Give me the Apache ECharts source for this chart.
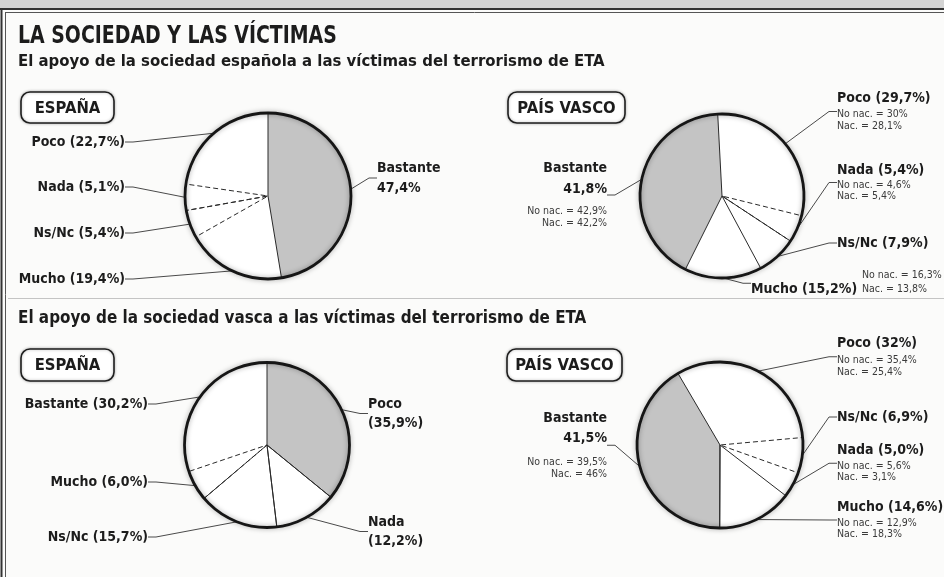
<!DOCTYPE html>
<html><head><meta charset="utf-8">
<script src="https://cdn.jsdelivr.net/npm/echarts@6/dist/echarts.min.js"></script>
<style>html,body{margin:0;padding:0;background:#fbfbfa}#c{width:944px;height:577px}</style>
</head><body><div id="c"></div>
<script>
// ---------------- DATA ----------------
const categories = ['Poco', 'Nada', 'Ns/Nc', 'Mucho', 'Bastante'];
// El apoyo de la sociedad española ...
const espanaEsp = [22.7, 5.1, 5.4, 19.4, 47.4];
const vascoEsp = [29.7, 5.4, 7.9, 15.2, 41.8];
const vascoEspNoNac = [30, 4.6, null, 16.3, 42.9];
const vascoEspNac = [28.1, 5.4, null, 13.8, 42.2];
// El apoyo de la sociedad vasca ...
const espanaVas = [35.9, 12.2, 15.7, 6.0, 30.2];
const vascoVas = [32, 5.0, 6.9, 14.6, 41.5];
const vascoVasNoNac = [35.4, 5.6, null, 12.9, 39.5];
const vascoVasNac = [25.4, 3.1, null, 18.3, 46];

const titleText = 'LA SOCIEDAD Y LAS VÍCTIMAS';
const subtitle1 = 'El apoyo de la sociedad española a las víctimas del terrorismo de ETA';
const subtitle2 = 'El apoyo de la sociedad vasca a las víctimas del terrorismo de ETA';
const badgeEsp = 'ESPAÑA';
const badgeVas = 'PAÍS VASCO';

// ---------------- STYLE / LAYOUT ----------------
const FONT = "'DejaVu Sans Condensed','Liberation Sans Narrow','Liberation Sans',sans-serif";
const INK = '#1c1c1c';
const GRAY = '#c4c4c4';
const LBL = 14, SUB = 10.5;
function pct(v) { return (Number.isInteger(v) && v >= 10) ? String(v) : v.toFixed(1).replace('.', ','); }

const pies = [
  { values: espanaEsp, center: [268, 196], r: 83, start: 90, clockwise: false, order: [0, 1, 2, 3, 4], gray: 'Bastante',
    edges: { 'Bastante': 'solid', 'Ns/Nc': 'dashed', 'Nada': 'dashed' },
    slots: {
      'Poco': { x: 125, y: 142, align: 'right', va: 'middle', fmt: 'inline' },
      'Nada': { x: 125, y: 187, align: 'right', va: 'middle', fmt: 'inline' },
      'Ns/Nc': { x: 125, y: 233, align: 'right', va: 'middle', fmt: 'inline' },
      'Mucho': { x: 125, y: 279, align: 'right', va: 'middle', fmt: 'inline' },
      'Bastante': { x: 377, y: 158, align: 'left', va: 'top', fmt: 'stack', nlh: 20 }
    } },
  { values: vascoEsp, noNac: vascoEspNoNac, nac: vascoEspNac, center: [722, 196], r: 82, start: 93, clockwise: true, order: [0, 1, 2, 3, 4], gray: 'Bastante',
    edges: { 'Bastante': 'solid', 'Nada': 'dashed', 'Ns/Nc': 'solid' },
    slots: {
      'Poco': { x: 837, y: 89, align: 'left', va: 'top', fmt: 'subs', nlh: 19, slh: 12 },
      'Nada': { x: 837, y: 160, align: 'left', va: 'top', fmt: 'subs', nlh: 20, slh: 11 },
      'Ns/Nc': { x: 837, y: 243, align: 'left', va: 'middle', fmt: 'inline' },
      'Mucho': { x: 751, y: 270, align: 'left', va: 'top', fmt: 'side', nw: 111 },
      'Bastante': { x: 607, y: 157.5, align: 'right', va: 'top', fmt: 'stackSubs', nlh: 21, sp: 6, slh: 12 }
    } },
  { values: espanaVas, center: [267, 445], r: 82.5, start: 90, clockwise: true, order: [0, 1, 2, 3, 4], gray: 'Poco',
    edges: { 'Poco': 'solid', 'Nada': 'solid', 'Ns/Nc': 'solid', 'Mucho': 'dashed' },
    slots: {
      'Bastante': { x: 148, y: 404, align: 'right', va: 'middle', fmt: 'inline' },
      'Mucho': { x: 148, y: 482, align: 'right', va: 'middle', fmt: 'inline' },
      'Ns/Nc': { x: 148, y: 537, align: 'right', va: 'middle', fmt: 'inline' },
      'Poco': { x: 368, y: 394.5, align: 'left', va: 'top', fmt: 'stackParen', nlh: 19 },
      'Nada': { x: 368, y: 512.5, align: 'left', va: 'top', fmt: 'stackParen', nlh: 19 }
    } },
  { values: vascoVas, noNac: vascoVasNoNac, nac: vascoVasNac, center: [720, 445], r: 83, start: 120.4, clockwise: true, order: [0, 2, 1, 3, 4], gray: 'Bastante',
    edges: { 'Bastante': 'solid', 'Ns/Nc': 'dashed', 'Mucho': 'solid' },
    slots: {
      'Poco': { x: 837, y: 332, align: 'left', va: 'top', fmt: 'subs', nlh: 22, slh: 12 },
      'Ns/Nc': { x: 837, y: 417, align: 'left', va: 'middle', fmt: 'inline' },
      'Nada': { x: 837, y: 440, align: 'left', va: 'top', fmt: 'subs', nlh: 21, slh: 11 },
      'Mucho': { x: 837, y: 496, align: 'left', va: 'top', fmt: 'subs', nlh: 22, slh: 11 },
      'Bastante': { x: 607, y: 408, align: 'right', va: 'top', fmt: 'stackSubs', nlh: 20, sp: 8, slh: 12 }
    } }
];

function labelFor(p, i) {
  const name = categories[i], v = pct(p.values[i]), s = p.slots[name];
  const nlh = s.nlh || 17, slh = s.slh || 11;
  const rich = {
    n: { fontFamily: FONT, fontSize: LBL, fontWeight: 'bold', color: INK, lineHeight: nlh },
    s: { fontFamily: FONT, fontSize: SUB, color: '#3a3a3a', lineHeight: slh },
    sp: { fontSize: 1, lineHeight: s.sp || 0 },
    w: { width: s.nw || 0, lineHeight: 11, fontSize: SUB },
    nw: { fontFamily: FONT, fontSize: LBL, fontWeight: 'bold', color: INK, lineHeight: 17, width: s.nw || 0 }
  };
  let f;
  const sub1 = p.noNac && p.noNac[i] != null ? 'No nac. = ' + pct(p.noNac[i]) + '%' : '';
  const sub2 = p.nac && p.nac[i] != null ? 'Nac. = ' + pct(p.nac[i]) + '%' : '';
  switch (s.fmt) {
    case 'inline': f = '{n|' + name + ' (' + v + '%)}'; break;
    case 'stack': f = '{n|' + name + '}\n{n|' + v + '%}'; break;
    case 'stackParen': f = '{n|' + name + '}\n{n|(' + v + '%)}'; break;
    case 'subs': f = '{n|' + name + ' (' + v + '%)}\n{s|' + sub1 + '}\n{s|' + sub2 + '}'; break;
    case 'stackSubs': f = '{n|' + name + '}\n{n|' + v + '%}\n{sp|\u00a0}\n{s|' + sub1 + '}\n{s|' + sub2 + '}'; break;
    case 'side': f = '{w|\u00a0}{s|' + sub1 + '}\n{nw|' + name + ' (' + v + '%)}{s|' + sub2 + '}'; break;
  }
  return { formatter: f, rich: rich };
}

const series = [];
pies.forEach(function (p, k) {
  const common = { type: 'pie', center: p.center, radius: [0, p.r], startAngle: p.start, clockwise: p.clockwise,
    avoidLabelOverlap: false, animation: false, emphasis: { disabled: true } };
  const main = Object.assign({}, common, {
    id: 'pie' + k,
    data: p.order.map(function (i) {
      return { name: categories[i], value: p.values[i],
        itemStyle: { color: categories[i] === p.gray ? GRAY : '#ffffff', borderWidth: 0 },
        label: labelFor(p, i) };
    }),
    label: { show: true, position: 'outside', color: INK },
    labelLine: { show: true, length: 10, length2: 8, lineStyle: { color: '#4a4a4a', width: 1 } },
    labelLayout: function (params) {
      const s = p.slots[categories[p.order[params.dataIndex]]];
      return { x: s.x, y: s.y, align: s.align, verticalAlign: s.va };
    },
    z: 2
  });
  const edgesS = Object.assign({}, common, {
    id: 'edges' + k, silent: true,
    data: p.order.map(function (i) {
      const t = p.edges[categories[i]];
      return { name: categories[i], value: p.values[i],
        itemStyle: { color: 'rgba(0,0,0,0)', borderColor: '#2a2a2a', borderWidth: t ? 1 : 0, borderType: t === 'dashed' ? [5, 3] : 'solid' } };
    }),
    label: { show: false }, labelLine: { show: false }, z: 3
  });
  const outline = Object.assign({}, common, {
    id: 'outline' + k, silent: true,
    data: [{ name: 'outline', value: 1 }],
    itemStyle: { color: 'rgba(0,0,0,0)', borderColor: '#161616', borderWidth: 2.8, shadowBlur: 5, shadowColor: 'rgba(0,0,0,0.35)' },
    label: { show: false }, labelLine: { show: false }, z: 4
  });
  series.push(main, edgesS, outline);
});

function badge(x, y, w, h, t) {
  return { type: 'group', children: [
    { type: 'rect', shape: { x: x, y: y, width: w, height: h, r: 9 }, style: { fill: '#fff', stroke: '#1e1e1e', lineWidth: 1.6, shadowBlur: 3, shadowColor: 'rgba(0,0,0,0.3)' } },
    { type: 'text', style: { text: t, x: x + w / 2, y: y + h / 2 + 1, font: "bold 16.5px " + FONT, fill: INK, align: 'center', verticalAlign: 'middle', textAlign: 'center', textVerticalAlign: 'middle' } }
  ] };
}
function txt(t, x, y, font, sx) {
  return { type: 'text', x: x, y: y, scaleX: sx || 1, style: { text: t, x: 0, y: 0, font: font, fill: INK, align: 'left', verticalAlign: 'middle', textAlign: 'left', textVerticalAlign: 'middle' } };
}

const graphic = [
  { type: 'rect', shape: { x: 0, y: 0, width: 944, height: 8 }, style: { fill: '#d4d4d4' }, z: -1 },
  { type: 'line', shape: { x1: 0, y1: 9, x2: 944, y2: 9 }, style: { stroke: '#333', lineWidth: 2 } },
  { type: 'line', shape: { x1: 5, y1: 12.5, x2: 944, y2: 12.5 }, style: { stroke: '#555', lineWidth: 1 } },
  { type: 'line', shape: { x1: 1.5, y1: 8, x2: 1.5, y2: 577 }, style: { stroke: '#333', lineWidth: 2 } },
  { type: 'line', shape: { x1: 5.5, y1: 12, x2: 5.5, y2: 577 }, style: { stroke: '#555', lineWidth: 1 } },
  { type: 'line', shape: { x1: 8, y1: 298.5, x2: 944, y2: 298.5 }, style: { stroke: '#c4c4c4', lineWidth: 1 } },
  txt(titleText, 18, 37, "bold 24px " + FONT, 0.875),
  txt(subtitle1, 18, 62, "bold 16.6px " + FONT),
  txt(subtitle2, 18, 319, "bold 16.9px " + FONT),
  badge(21, 92, 93, 31, badgeEsp),
  badge(508, 92, 117, 31, badgeVas),
  badge(21, 349, 93, 32, badgeEsp),
  badge(507, 349, 115, 32, badgeVas)
];

const chart = echarts.init(document.getElementById('c'), null, { renderer: 'canvas' });
chart.setOption({ backgroundColor: '#fbfbfa', animation: false, graphic: graphic, series: series });
</script></body></html>
